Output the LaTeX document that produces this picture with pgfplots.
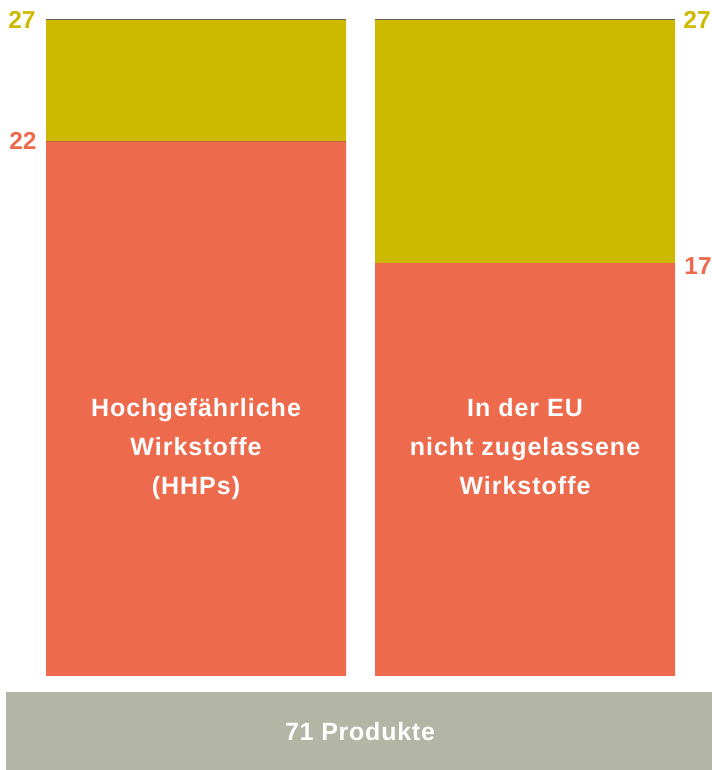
\documentclass[border=0pt]{standalone}
\usepackage{fontspec}
\setmainfont{Liberation Sans}
\newfontfamily\barfont{Liberation Sans Bold}[LetterSpace=4]
\newfontfamily\basefont{Liberation Sans Bold}[LetterSpace=3]
\newfontfamily\numfont{Liberation Sans Bold}
\usepackage{pgfplots}
\pgfplotsset{compat=1.18}
\definecolor{cred}{RGB}{238,106,76}
\definecolor{cyel}{RGB}{205,186,0}
\definecolor{cgrey}{RGB}{179,181,165}
\begin{document}
\begin{tikzpicture}[x=1bp,y=1bp]
\useasboundingbox (0,0) rectangle (712,770);
\begin{axis}[
  at={(0,0)}, anchor=south west,
  scale only axis, width=712bp, height=770bp,
  xmin=0, xmax=712, ymin=-3.869, ymax=27.823,
  hide axis, clip=false,
  ybar stacked, bar width=300,
]
\addplot[fill=cred, draw=none] coordinates {(196,22) (525,17)};
\addplot[fill=cyel, draw=none] coordinates {(196,5) (525,10)};
\draw[black!85, line width=1.2bp] (axis cs:46,22) -- (axis cs:346,22);
\draw[black!65, line width=1.4bp] (axis cs:46,27) -- (axis cs:346,27);
\draw[black!85, line width=1.2bp] (axis cs:375,17) -- (axis cs:675,17);
\draw[black!65, line width=1.4bp] (axis cs:375,27) -- (axis cs:675,27);
\fill[cgrey] (axis cs:6,-0.6585) rectangle (axis cs:712,-3.869);
\end{axis}
% labels (pixel coords, y = 770 - py)
\node[text=white, anchor=base, inner sep=0pt, font=\basefont\fontsize{25bp}{28bp}\selectfont] at (360,29.5) {71 Produkte};
\node[text=cyel, font=\numfont\fontsize{24.5bp}{28bp}\selectfont] at (22,750) {27};
\node[text=cred, font=\numfont\fontsize{24.5bp}{28bp}\selectfont] at (23,629) {22};
\node[text=cyel, font=\numfont\fontsize{24.5bp}{28bp}\selectfont] at (697,750) {27};
\node[text=cred, font=\numfont\fontsize{24.5bp}{28bp}\selectfont] at (698,504) {17};
\begin{scope}[every node/.style={text=white, anchor=base, inner sep=0pt, font=\barfont\fontsize{25bp}{28bp}\selectfont}]
\node at (196,353) {Hochgefährliche};
\node at (196,314) {Wirkstoffe};
\node at (196,275) {(HHPs)};
\node at (525,353) {In der EU};
\node at (525,314) {nicht zugelassene};
\node at (525,275) {Wirkstoffe};
\end{scope}
\end{tikzpicture}
\end{document}
